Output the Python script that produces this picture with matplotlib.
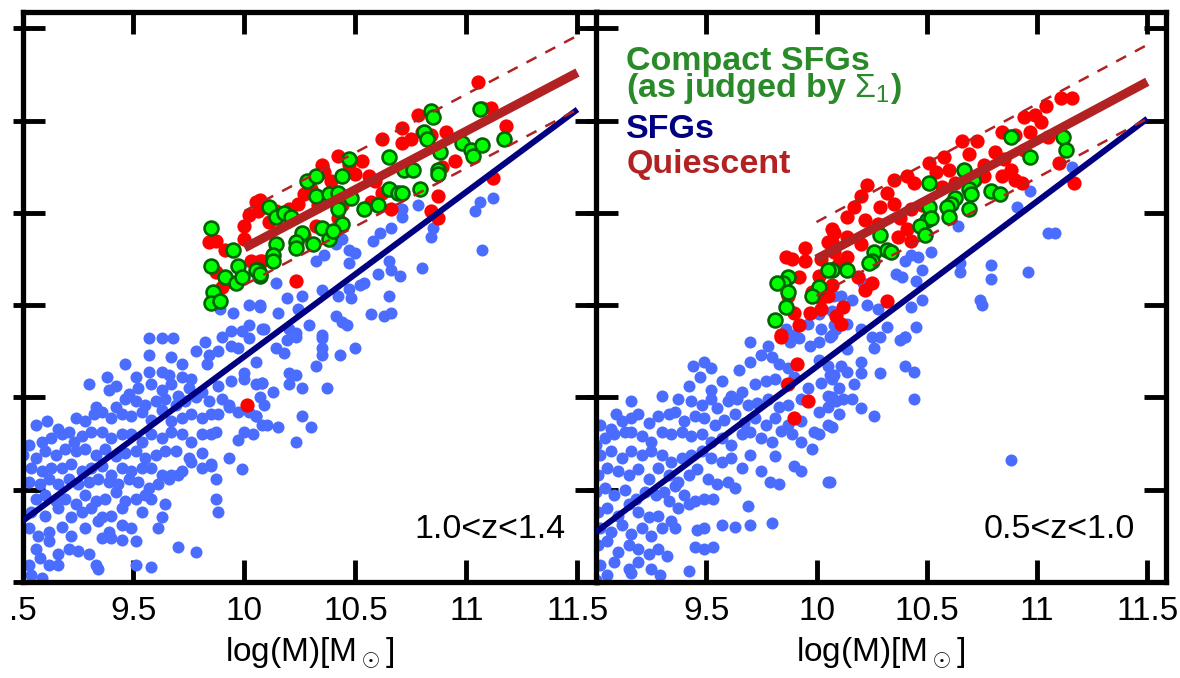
import numpy as np
import matplotlib
matplotlib.use("Agg")
import matplotlib.pyplot as plt
from matplotlib.ticker import FixedLocator

plt.rcParams['font.family'] = 'Liberation Sans'
plt.rcParams['mathtext.fontset'] = 'custom'
plt.rcParams['mathtext.rm'] = 'Liberation Sans'
plt.rcParams['mathtext.bf'] = 'Liberation Sans:bold'

# ---- data: log(M) vs log(Sigma_1) ----
# left panel, 1.0<z<1.4
left_sfg = [
    (9.57, 8.82), (9.63, 8.82), (9.68, 8.82), (9.82, 8.80), (9.90, 8.83), (10.02, 8.82),
    (9.57, 8.73), (9.78, 8.75), (9.84, 8.73), (9.88, 8.75), (9.94, 8.78), (9.97, 8.77),
    (9.46, 8.68), (9.67, 8.72), (9.72, 8.68), (9.83, 8.68), (10.05, 8.69), (10.00, 8.63),
    (9.30, 8.57), (9.38, 8.61), (9.51, 8.61), (9.57, 8.64), (9.63, 8.64), (9.66, 8.62),
    (9.72, 8.61), (9.76, 8.60), (9.39, 8.54), (9.42, 8.56), (9.48, 8.52), (9.52, 8.55),
    (9.58, 8.57), (9.63, 8.54), (9.67, 8.57), (9.70, 8.51), (9.75, 8.55), (9.81, 8.53),
    (9.88, 8.56), (9.94, 8.59), (10.00, 8.60), (10.05, 8.57), (10.08, 8.58),
    (9.33, 8.45), (9.42, 8.45), (9.46, 8.49), (9.51, 8.48), (9.55, 8.46), (9.60, 8.48),
    (9.64, 8.49), (9.69, 8.46), (9.73, 8.48), (9.78, 8.50), (9.84, 8.48), (9.90, 8.49),
    (9.93, 8.46), (9.97, 8.42), (10.02, 8.42), (10.05, 8.40),
    (9.06, 8.35), (9.11, 8.37), (9.16, 8.33), (9.21, 8.31), (9.24, 8.39), (9.28, 8.37),
    (9.32, 8.41), (9.36, 8.42), (9.40, 8.39), (9.45, 8.41), (9.49, 8.40), (9.54, 8.42),
    (9.58, 8.38), (9.63, 8.43), (9.67, 8.37), (9.72, 8.39), (9.76, 8.41), (9.81, 8.39),
    (9.85, 8.41), (9.88, 8.41), (9.93, 8.45), (9.87, 8.31), (10.00, 8.31), (10.04, 8.30),
    (10.08, 8.35),
    (9.03, 8.24), (9.09, 8.26), (9.13, 8.28), (9.18, 8.30), (9.23, 8.26), (9.27, 8.29),
    (9.31, 8.31), (9.36, 8.31), (9.40, 8.28), (9.45, 8.30), (9.49, 8.30), (9.54, 8.26),
    (9.58, 8.30), (9.63, 8.28), (9.67, 8.31), (9.72, 8.30), (9.76, 8.26), (9.81, 8.30),
    (9.85, 8.30), (9.97, 8.27),
    (9.00, 8.19), (9.06, 8.17), (9.10, 8.21), (9.15, 8.19), (9.19, 8.22), (9.24, 8.21),
    (9.28, 8.22), (9.33, 8.19), (9.37, 8.22), (9.42, 8.18), (9.46, 8.20), (9.51, 8.21),
    (9.55, 8.17), (9.60, 8.19), (9.64, 8.21), (9.69, 8.21), (9.75, 8.17), (9.81, 8.20),
    (9.85, 8.14), (9.93, 8.17),
    (9.04, 8.12), (9.09, 8.10), (9.13, 8.12), (9.18, 8.12), (9.22, 8.14), (9.27, 8.10),
    (9.31, 8.12), (9.36, 8.13), (9.40, 8.08), (9.45, 8.12), (9.49, 8.10), (9.54, 8.12),
    (9.58, 8.12), (9.63, 8.08), (9.67, 8.08), (9.72, 8.10), (9.76, 8.15), (9.81, 8.12),
    (9.85, 8.13), (9.99, 8.11),
    (9.03, 8.04), (9.08, 8.03), (9.12, 8.06), (9.16, 8.03), (9.21, 8.06), (9.25, 8.03),
    (9.30, 8.04), (9.34, 8.06), (9.39, 8.04), (9.43, 8.03), (9.48, 8.06), (9.52, 8.04),
    (9.57, 8.01), (9.61, 8.03), (9.66, 8.06), (9.70, 8.08), (9.87, 8.06),
    (9.06, 7.95), (9.10, 7.97), (9.15, 7.94), (9.19, 7.95), (9.24, 7.92), (9.28, 7.97),
    (9.33, 7.94), (9.37, 7.95), (9.42, 7.99), (9.46, 7.94), (9.51, 7.95), (9.55, 7.97),
    (9.58, 7.95), (9.64, 7.92), (9.87, 7.95), (9.88, 7.88),
    (9.04, 7.88), (9.10, 7.86), (9.16, 7.90), (9.22, 7.85), (9.27, 7.88), (9.31, 7.90),
    (9.36, 7.85), (9.40, 7.86), (9.45, 7.90), (9.54, 7.88), (9.63, 7.85), (9.61, 7.79),
    (9.03, 7.79), (9.07, 7.75), (9.12, 7.77), (9.18, 7.80), (9.22, 7.75), (9.28, 7.79),
    (9.34, 7.83), (9.39, 7.77), (9.45, 7.81), (9.49, 7.79),
    (9.06, 7.68), (9.12, 7.72), (9.16, 7.65), (9.21, 7.68), (9.25, 7.67), (9.30, 7.65),
    (9.36, 7.74), (9.40, 7.74), (9.45, 7.73), (9.51, 7.72), (9.70, 7.69), (9.78, 7.66),
    (9.03, 7.59), (9.08, 7.63), (9.12, 7.59), (9.16, 7.59), (9.33, 7.59), (9.34, 7.57),
    (9.51, 7.59), (9.58, 7.58), (9.04, 7.54), (9.09, 7.52),
    (9.89, 8.98), (9.95, 8.96), (10.02, 9.00), (10.07, 8.99), (9.94, 8.86), (9.99, 8.86),
    (10.02, 8.89), (10.08, 8.87),
    (10.78, 9.54), (10.71, 9.52), (10.71, 9.48), (10.66, 9.42), (10.61, 9.39), (10.58, 9.35),
    (10.44, 9.36), (10.47, 9.30), (10.50, 9.28), (10.41, 9.33), (10.36, 9.27), (10.32, 9.24),
    (10.47, 9.23), (10.54, 9.12), (10.60, 9.17), (10.65, 9.24), (10.66, 9.19), (10.70, 9.16),
    (10.80, 9.20), (10.84, 9.37), (10.85, 9.42), (11.04, 9.51), (11.06, 9.56), (11.12, 9.58),
    (11.07, 9.30), (10.14, 9.12), (10.07, 9.00), (10.15, 8.96), (10.19, 9.04), (10.26, 9.05),
    (10.24, 8.98), (10.35, 9.08), (10.42, 9.05), (10.48, 9.04), (10.47, 9.09), (10.52, 9.11),
    (10.65, 9.05), (10.57, 8.95), (10.63, 8.94), (10.66, 8.96), (10.41, 8.94), (10.44, 8.91),
    (10.46, 8.89), (10.29, 8.89), (10.23, 8.85), (10.35, 8.84), (10.09, 8.87), (10.20, 8.87),
    (10.19, 8.81), (10.23, 8.83), (10.35, 8.82), (10.35, 8.77), (10.35, 8.73), (10.43, 8.73),
    (10.50, 8.77), (10.32, 8.67), (10.20, 8.63), (10.23, 8.62), (10.20, 8.57), (10.26, 8.55),
    (10.37, 8.55), (10.08, 8.58), (10.13, 8.53), (10.07, 8.50), (10.09, 8.46), (10.05, 8.40),
    (10.10, 8.35), (10.15, 8.34), (10.26, 8.40), (10.30, 8.34), (10.23, 8.26), (10.14, 8.77),
    (10.18, 8.74),
]
left_quiescent = [
    (10.05, 9.56), (10.06, 9.51), (10.11, 9.45), (10.07, 9.24), (10.23, 9.13), (10.24, 9.55),
    (10.27, 9.60), (10.30, 9.63), (10.35, 9.76), (10.36, 9.72), (10.39, 9.67), (10.42, 9.81),
    (10.47, 9.76), (10.53, 9.78), (10.50, 9.71), (10.56, 9.70), (10.59, 9.67), (10.62, 9.90),
    (10.57, 9.56), (10.66, 9.52), (10.62, 9.61), (10.71, 9.96), (10.71, 9.88), (10.75, 9.90),
    (10.78, 10.03), (10.80, 9.94), (10.84, 9.92), (10.91, 9.94), (10.95, 9.78), (10.89, 9.75),
    (10.87, 9.59), (10.84, 9.51), (10.87, 9.47), (11.07, 10.07), (11.11, 10.07), (11.18, 9.97),
    (11.12, 9.69), (10.32, 9.43), (10.42, 9.47), (10.44, 9.54), (10.27, 9.38), (10.33, 9.54),
    (10.20, 9.52), (10.14, 9.51), (10.07, 9.57), (10.02, 9.49), (10.00, 9.43), (10.00, 9.36),
    (9.91, 9.30), (9.87, 9.35), (9.84, 9.34), (9.87, 9.18), (9.93, 9.13), (10.08, 9.24),
    (10.03, 9.24), (9.90, 9.10), (11.05, 10.21), (10.01, 8.46),
]
left_compact = [
    (10.84, 10.05), (10.85, 10.02), (10.81, 9.94), (10.82, 9.90), (10.65, 9.80), (10.47, 9.79),
    (10.44, 9.70), (10.28, 9.67), (10.32, 9.70), (10.32, 9.59), (10.38, 9.60), (10.42, 9.61),
    (10.48, 9.58), (10.54, 9.52), (10.60, 9.54), (10.42, 9.52), (10.44, 9.44), (10.35, 9.42),
    (10.26, 9.39), (10.23, 9.34), (10.23, 9.31), (10.14, 9.33), (10.13, 9.27), (10.13, 9.24),
    (10.06, 9.19), (10.07, 9.16), (10.11, 9.53), (10.14, 9.48), (10.18, 9.50), (10.65, 9.63),
    (10.69, 9.61), (10.71, 9.61), (10.79, 9.63), (10.72, 9.73), (10.76, 9.73), (10.87, 9.73),
    (10.87, 9.71), (10.88, 9.83), (10.98, 9.88), (11.02, 9.84), (11.03, 9.81), (11.07, 9.87),
    (11.06, 10.06), (11.17, 9.90), (10.38, 9.36), (10.40, 9.40), (10.21, 9.48), (10.31, 9.33),
    (9.85, 9.42), (9.95, 9.30), (9.85, 9.21), (9.97, 9.21), (9.91, 9.15), (9.96, 9.12),
    (9.99, 9.15), (10.05, 9.19), (10.07, 9.17), (9.86, 9.07), (9.85, 9.01), (9.89, 9.02),
]

# right panel, 0.5<z<1.0
right_sfg = [
    (9.70, 8.80), (9.78, 8.78), (9.88, 8.80), (9.92, 8.82), (9.97, 8.78), (10.01, 8.80),
    (10.06, 8.83), (9.44, 8.67), (9.49, 8.69), (9.52, 8.66), (9.65, 8.65), (9.70, 8.69),
    (9.75, 8.73), (9.80, 8.72), (9.83, 8.68), (9.87, 8.66), (10.01, 8.70), (10.05, 8.67),
    (10.07, 8.60), (10.08, 8.62),
    (9.30, 8.51), (9.16, 8.48), (9.09, 8.41), (9.42, 8.56), (9.47, 8.61), (9.52, 8.54),
    (9.57, 8.59), (9.61, 8.51), (9.66, 8.53), (9.72, 8.57), (9.77, 8.59), (9.81, 8.60),
    (9.86, 8.57), (9.90, 8.61), (9.96, 8.55), (10.02, 8.58), (10.05, 8.51), (10.09, 8.48),
    (9.37, 8.49), (9.43, 8.48), (9.48, 8.46), (9.52, 8.49), (9.55, 8.44), (9.60, 8.48),
    (9.64, 8.49), (9.69, 8.46), (9.73, 8.47), (9.78, 8.49), (9.83, 8.45), (9.87, 8.46),
    (9.93, 8.49), (10.01, 8.42), (10.05, 8.45),
    (9.02, 8.35), (9.07, 8.33), (9.12, 8.37), (9.16, 8.39), (9.19, 8.41), (9.24, 8.36),
    (9.28, 8.40), (9.33, 8.41), (9.36, 8.42), (9.40, 8.37), (9.45, 8.40), (9.49, 8.39),
    (9.54, 8.35), (9.58, 8.38), (9.63, 8.41), (9.67, 8.36), (9.72, 8.39), (9.77, 8.35),
    (9.81, 8.39), (9.87, 8.35), (9.93, 8.37), (9.99, 8.31), (10.05, 8.35),
    (9.00, 8.24), (9.04, 8.28), (9.08, 8.30), (9.13, 8.31), (9.16, 8.31), (9.21, 8.29),
    (9.25, 8.26), (9.30, 8.31), (9.34, 8.30), (9.39, 8.31), (9.43, 8.29), (9.48, 8.30),
    (9.52, 8.26), (9.57, 8.28), (9.61, 8.24), (9.66, 8.30), (9.70, 8.31), (9.75, 8.28),
    (9.80, 8.26), (9.84, 8.32), (9.89, 8.30), (9.93, 8.26), (9.98, 8.22), (10.01, 8.30),
    (9.02, 8.19), (9.07, 8.21), (9.12, 8.17), (9.16, 8.21), (9.21, 8.19), (9.25, 8.21),
    (9.30, 8.19), (9.34, 8.15), (9.39, 8.17), (9.43, 8.19), (9.48, 8.21), (9.52, 8.17),
    (9.57, 8.15), (9.61, 8.17), (9.66, 8.12), (9.70, 8.19), (9.75, 8.10), (9.81, 8.18),
    (9.90, 8.13), (9.93, 8.10),
    (9.01, 8.08), (9.05, 8.12), (9.10, 8.10), (9.15, 8.08), (9.19, 8.11), (9.24, 8.06),
    (9.28, 8.12), (9.33, 8.08), (9.37, 8.04), (9.42, 8.08), (9.46, 8.11), (9.51, 8.06),
    (9.55, 8.03), (9.60, 8.04), (9.63, 8.01), (9.79, 8.04), (9.83, 8.03), (10.05, 8.04),
    (9.00, 7.99), (9.04, 8.01), (9.08, 7.97), (9.13, 8.00), (9.18, 7.95), (9.22, 7.99),
    (9.27, 7.97), (9.31, 7.99), (9.36, 8.02), (9.40, 7.97), (9.45, 7.94), (9.49, 7.95),
    (9.53, 7.95), (9.69, 7.91),
    (9.01, 7.88), (9.05, 7.90), (9.10, 7.86), (9.15, 7.92), (9.19, 7.88), (9.24, 7.85),
    (9.28, 7.86), (9.33, 7.94), (9.37, 7.90), (9.42, 7.92), (9.34, 7.83), (9.36, 7.79),
    (9.02, 7.79), (9.07, 7.77), (9.12, 7.81), (9.16, 7.76), (9.21, 7.79), (9.25, 7.75),
    (9.30, 7.79), (9.46, 7.78), (9.49, 7.79), (9.57, 7.81), (9.63, 7.80), (9.70, 7.81),
    (9.80, 7.82),
    (9.01, 7.70), (9.05, 7.72), (9.10, 7.66), (9.15, 7.70), (9.19, 7.68), (9.24, 7.65),
    (9.28, 7.68), (9.45, 7.69), (9.49, 7.68), (9.53, 7.69),
    (9.02, 7.59), (9.08, 7.61), (9.15, 7.57), (9.19, 7.61), (9.25, 7.57), (9.32, 7.64),
    (9.05, 7.54), (9.16, 7.55), (9.29, 7.54), (9.42, 7.56), (9.00, 7.51),
    (10.25, 8.83), (10.29, 8.83), (10.38, 8.81), (10.40, 8.83), (10.26, 8.77), (10.14, 8.76),
    (10.11, 8.67), (10.14, 8.64), (10.20, 8.69), (10.20, 8.63), (10.29, 8.63), (10.40, 8.67),
    (10.44, 8.64), (10.06, 8.62), (10.10, 8.55), (10.17, 8.57), (10.07, 8.50), (10.12, 8.49),
    (10.16, 8.49), (10.20, 8.44), (10.26, 8.40), (10.10, 8.41), (10.07, 8.34), (10.44, 8.49),
    (10.88, 8.16), (10.06, 8.04),
    (11.16, 9.75), (10.97, 9.62), (10.91, 9.53), (11.05, 9.39), (11.08, 9.39), (10.96, 9.18),
    (10.79, 9.22), (10.79, 9.14), (10.65, 9.18), (10.64, 9.43), (10.65, 9.23), (10.74, 9.03),
    (10.75, 9.00), (10.52, 9.29), (10.46, 9.26), (10.43, 9.27), (10.48, 9.19), (10.40, 9.24),
    (10.45, 9.13), (10.39, 9.15), (10.36, 9.17), (10.48, 9.03), (10.43, 8.99), (10.45, 8.88),
    (10.23, 9.00), (10.28, 8.98), (10.21, 9.12), (10.16, 9.03), (10.11, 9.05), (10.07, 8.97),
    (10.09, 8.87), (10.32, 8.88), (10.40, 8.83), (10.14, 8.90), (10.20, 8.87),
    (10.08, 9.05), (10.01, 8.95), (9.96, 8.90), (9.86, 8.87), (9.90, 8.84), (10.02, 8.87),
    (10.08, 8.89), (10.07, 8.84),
]
right_quiescent = [
    (11.11, 10.12), (11.16, 10.12), (11.04, 10.08), (10.99, 10.03), (10.94, 10.02),
    (10.90, 9.92), (10.97, 9.94), (10.84, 9.94), (10.81, 9.83), (10.85, 9.79), (10.76, 9.76),
    (10.73, 9.89), (10.66, 9.89), (10.69, 9.82), (10.58, 9.80), (10.60, 9.73), (10.54, 9.72),
    (10.51, 9.77), (10.44, 9.66), (10.41, 9.70), (10.35, 9.68), (10.32, 9.61), (10.29, 9.53),
    (10.23, 9.65), (10.20, 9.59), (10.17, 9.53), (10.14, 9.48), (10.22, 9.46), (10.28, 9.44),
    (10.35, 9.55), (10.38, 9.47), (10.41, 9.41), (10.43, 9.52), (10.57, 9.64), (10.63, 9.66),
    (10.72, 9.68), (10.76, 9.70), (10.84, 9.70), (10.90, 9.68), (10.93, 9.66), (10.88, 9.73),
    (11.10, 9.77), (11.17, 9.66), (10.94, 9.84), (11.05, 9.91), (10.32, 9.02), (10.25, 9.12),
    (10.22, 9.08), (10.12, 8.99), (10.09, 8.94), (10.11, 8.90), (10.08, 9.39), (10.07, 9.34),
    (10.14, 9.37), (10.20, 9.33), (10.19, 9.15), (10.14, 9.26), (10.10, 9.23), (10.43, 9.35),
    (10.37, 9.37), (10.51, 9.48), (10.48, 9.54), (11.02, 9.99),
    (10.07, 9.41), (10.05, 9.34), (9.95, 9.31), (9.89, 9.25), (9.86, 9.26), (9.95, 9.24),
    (10.02, 9.25), (10.08, 9.29), (10.01, 9.16), (9.92, 9.15), (9.87, 9.05), (9.98, 9.07),
    (10.02, 9.04), (10.05, 9.05), (10.08, 9.20), (9.92, 8.89), (9.84, 8.84), (9.90, 8.96),
    (10.02, 8.98), (10.07, 9.11), (9.97, 8.96),
    (9.84, 8.83), (9.91, 8.68), (9.87, 8.57), (9.96, 8.48), (9.90, 8.39),
]
right_compact = [
    (10.88, 9.91), (10.97, 9.80), (11.12, 9.91), (11.13, 9.84), (10.51, 9.66), (10.67, 9.73),
    (10.71, 9.68), (10.69, 9.63), (10.70, 9.60), (10.79, 9.62), (10.83, 9.60), (10.63, 9.58),
    (10.61, 9.55), (10.59, 9.53), (10.60, 9.48), (10.69, 9.52), (10.51, 9.53), (10.50, 9.46),
    (10.52, 9.47), (10.47, 9.43), (10.49, 9.38), (10.29, 9.38), (10.26, 9.29), (10.32, 9.30),
    (10.34, 9.29), (10.25, 9.24), (10.24, 9.23), (10.07, 9.19), (10.14, 9.19),
    (10.05, 9.19), (10.01, 9.10), (9.98, 9.05), (9.87, 9.15), (9.85, 9.12), (9.82, 9.12),
    (9.87, 9.07), (9.86, 8.99), (9.81, 8.92),
]

# fitted relations (start/end of each line)
sfg_line_x = [9.0, 11.5]
left_sfg_line_y = [7.83, 10.06]
right_sfg_line_y = [7.77, 10.01]
q_line_x = [10.0, 11.5]
left_q_line_y = [9.31, 10.26]
right_q_line_y = [9.25, 10.21]
q_width = 0.2

xticks = [9.0, 9.5, 10.0, 10.5, 11.0, 11.5]
yticks = [7.5, 8.0, 8.5, 9.0, 9.5, 10.0, 10.5]
left_xticklabels = ['.5', '9.5', '10', '10.5', '11', '11.5']
right_xticklabels = ['', '9.5', '10', '10.5', '11', '11.5']

blue = '#4a6dff'
navy = '#000080'
brick = '#b22222'
green_text = '#2a8a2a'

fig = plt.figure(figsize=(11.8, 6.78), dpi=100)
ax1 = fig.add_axes([22.5 / 1180, 96 / 678, 574.5 / 1180, 570 / 678])
ax2 = fig.add_axes([596 / 1180, 96 / 678, 570 / 1180, 570 / 678])

panels = [
    (ax1, left_sfg, left_quiescent, left_compact, left_sfg_line_y, left_q_line_y,
     left_xticklabels, '1.0<z<1.4', 11.588),
    (ax2, right_sfg, right_quiescent, right_compact, right_sfg_line_y, right_q_line_y,
     right_xticklabels, '0.5<z<1.0', 11.585),
]

for ax, sfg, qui, comp, sfg_y, q_y, xlabels, ztext, xmax in panels:
    sfg = np.array(sfg)
    qui = np.array(qui)
    comp = np.array(comp)
    ax.scatter(sfg[:, 0], sfg[:, 1], s=75, color=blue, linewidths=0, zorder=2)
    ax.scatter(qui[:, 0], qui[:, 1], s=105, color='#ff0000', linewidths=0, zorder=3)
    ax.scatter(comp[:, 0], comp[:, 1], s=100, color='#00ff00', edgecolors='#006400',
               linewidths=1.9, zorder=4)

    ax.plot(sfg_line_x, sfg_y, color=navy, lw=4.3, solid_capstyle='butt', zorder=5)
    ax.plot(q_line_x, q_y, color=brick, lw=6.5, solid_capstyle='butt', zorder=6)
    qy = np.array(q_y)
    ax.plot(q_line_x, qy + q_width, color=brick, lw=1.8, ls=(0, (4.5, 4)), zorder=6)
    ax.plot(q_line_x, qy - q_width, color=brick, lw=1.8, ls=(0, (4.5, 4)), zorder=6)

    ax.set_xlim(9.0, xmax)
    ax.set_ylim(7.5, 10.588)
    ax.set_xticks(xticks)
    ax.set_xticklabels(xlabels)
    ax.set_yticks(yticks)
    ax.set_yticklabels([])
    ax.tick_params(which='major', direction='in', length=16, width=3.5,
                   top=True, right=True, labelsize=24, pad=10)
    # little outward stubs on the left side
    ax.yaxis.set_minor_locator(FixedLocator(yticks))
    ax.yaxis.remove_overlapping_locs = False
    ax.tick_params(axis='y', which='minor', direction='out', length=7, width=3.5,
                   left=True, right=False)
    for sp in ax.spines.values():
        sp.set_linewidth(3.8)

    ax.set_xlabel('log(M)[M$_\\odot$]', fontsize=24, labelpad=6)
    ax.text(0.945, 0.077, ztext, transform=ax.transAxes, ha='right', va='baseline',
            fontsize=24.5)

# legend text in right panel
ax2.text(0.053, 0.851, 'Compact SFGs\n(as judged by $\\Sigma_1$)', transform=ax2.transAxes,
         color=green_text, fontsize=24.5, fontweight='bold', va='baseline',
         linespacing=0.78)
ax2.text(0.053, 0.779, 'SFGs', transform=ax2.transAxes, color=navy,
         fontsize=24.5, fontweight='bold', va='baseline')
ax2.text(0.053, 0.7175, 'Quiescent', transform=ax2.transAxes, color=brick,
         fontsize=24.5, fontweight='bold', va='baseline')

fig.savefig('out.png', dpi=100)
